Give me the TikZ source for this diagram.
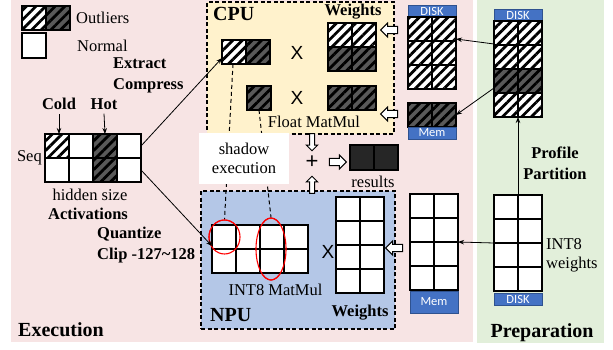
\documentclass[tikz,border=0pt]{standalone}
\usepackage{fontspec}
\setmainfont{Liberation Serif}
\setsansfont{Liberation Sans}
\newfontfamily\tagfont{Carlito}
\usetikzlibrary{arrows.meta,patterns.meta,shapes.geometric,shapes.arrows}

\definecolor{execpink}{HTML}{F7E4E4}
\definecolor{prepgreen}{HTML}{E2EFDA}
\definecolor{cpuyellow}{HTML}{FFF2CC}
\definecolor{npublue}{HTML}{B4C7E7}
\definecolor{tagblue}{HTML}{4472C4}
\definecolor{tagedge}{HTML}{2F528F}
\definecolor{hotgray}{HTML}{595959}
\definecolor{resblack}{HTML}{262626}

\tikzset{
  >={Stealth[length=6pt,width=4.5pt]},
  conn/.style={->, line width=0.8pt},
  cell/.style={draw, line width=1.1pt, fill=white, minimum width=24pt, minimum height=24pt, inner sep=0pt, outer sep=0pt},
  hatw/.style={cell, preaction={fill=white}, pattern={Lines[angle=45,distance=6.8pt,line width=2.8pt]}, pattern color=black},
  hatd/.style={cell, preaction={fill=hotgray}, pattern={Lines[angle=45,distance=6.8pt,line width=2.8pt]}, pattern color=black},
  unitbox/.style={draw, dash pattern=on 4pt off 2.5pt, line width=1.2pt, inner sep=0pt},
  shadowline/.style={dash pattern=on 4pt off 3pt, line width=1pt},
  ring/.style={ellipse, draw=red, line width=1.1pt, inner sep=0pt},
  tag/.style={draw=tagedge, fill=tagblue, text=white, font=\tagfont\fontsize{12.5}{12.5}\selectfont, minimum width=48pt, inner sep=0pt},
  barrow/.style={single arrow, draw, fill=white, line width=1pt, inner xsep=2pt, inner ysep=3.2pt, minimum height=17pt, single arrow head extend=3.2pt},
  lbl/.style={font=\fontsize{16.5}{19}\selectfont, inner sep=0pt},
  blbl/.style={font=\fontsize{16.5}{21}\selectfont\bfseries, inner sep=0pt},
  title/.style={font=\fontsize{20}{22}\selectfont\bfseries, inner sep=0pt},
  xmark/.style={font=\sffamily\fontsize{19}{19}\selectfont, inner sep=0pt}
}

\begin{document}
\begin{tikzpicture}[x=1pt, y=-1pt]
\useasboundingbox (0,0) rectangle (613,350);

% two regions
\node[fill=execpink, minimum width=462pt, minimum height=342pt, inner sep=0pt] (execbg) at (242,171) {};
\node[fill=prepgreen, minimum width=127pt, minimum height=343pt, inner sep=0pt] (prepbg) at (540.5,171.5) {};

% legend
\node[hatw] (leg1) at (34,18) {};
\node[hatd] (leg2) at (58,18) {};
\node[cell, minimum height=25pt] (leg3) at (34,45.5) {};
\node[lbl, anchor=west] (legout) at (76,18) {Outliers};
\node[lbl, anchor=west] (legnorm) at (77,46) {Normal};

% activations
\foreach \c/\r/\s in {1/1/hatw,2/1/cell,3/1/hatd,4/1/cell,1/2/cell,2/2/cell,3/2/hatd,4/2/cell}
  \node[\s] (act-\c-\r) at ({33+24*\c},{122+24*\r}) {};
\node[lbl, anchor=east] (seq) at (42,158) {Seq};
\node[lbl] (hidden) at (90,195) {hidden size};
\node[blbl] (actname) at (88,214) {Activations};
\node[blbl] (cold) at (59,104) {Cold};
\node[blbl] (hot) at (104,104) {Hot};
\draw[conn] ([yshift=-4pt]cold.south) -- ([xshift=2pt]act-1-1.north);
\draw[conn] ([yshift=-4pt]hot.south) -- (act-3-1.north);
\node[blbl, anchor=west, align=left] (extract) at (113,75) {Extract\\Compress};
\node[blbl, anchor=west, align=left] (quant) at (97,245) {Quantize\\Clip -127\textasciitilde128};
\node[title, anchor=west] (exec) at (18,330) {Execution};

% CPU and NPU units
\node[unitbox, fill=cpuyellow, minimum width=187pt, minimum height=132pt] (cpubox) at (300.5,68) {};
\node[unitbox, fill=npublue, minimum width=194pt, minimum height=138pt] (npubox) at (298,260) {};

% red rings first named, lines go under the shadow note
\node[ring, minimum width=31pt, minimum height=34pt] (ring1) at (224.5,237) {};
\node[ring, minimum width=30pt, minimum height=62pt] (ring2) at (271,249) {};

% CPU side
\node[hatw] (cpuA-1) at (234,52) {};
\node[hatd] (cpuA-2) at (258,52) {};
\node[hatd] (cpuB) at (259,98) {};
\draw[shadowline] ([xshift=-1pt]cpuA-1.south) -- (ring1.north);
\draw[shadowline] (cpuB.south) -- (ring2.north);
\node[fill=white, minimum width=90pt, minimum height=51pt, inner sep=0pt, lbl, align=center] (shadow) at (244,158.5) {shadow\\execution};

\node[title, anchor=west] (cpulbl) at (213,14) {CPU};
\node[blbl] (cpuwlbl) at (353,12) {Weights};
\foreach \c/\r/\s in {1/1/hatw,2/1/hatw,1/2/hatd,2/2/hatd}
  \node[\s] (cpuW-\c-\r) at ({316+24*\c},{11+24*\r}) {};
\node[hatd] (cpuV-1) at (340,98) {};
\node[hatd] (cpuV-2) at (364,98) {};
\node[xmark] (mul1) at (297,53) {X};
\node[xmark] (mul2) at (297,98) {X};
\node[lbl] (fmm) at (314,122) {Float MatMul};

% NPU side
\foreach \c in {1,2,3,4}
  \foreach \r in {1,2}
    \node[cell] (npuA-\c-\r) at ({200+24*\c},{213+24*\r}) {};
\node[ring, minimum width=31pt, minimum height=34pt] at (ring1) {};
\node[ring, minimum width=30pt, minimum height=62pt] at (ring2) {};
\foreach \c in {1,2}
  \foreach \r in {1,2,3,4}
    \node[cell] (npuW-\c-\r) at ({324+24*\c},{185+24*\r}) {};
\node[xmark] (mul3) at (328,252) {X};
\node[lbl] (imm) at (275.5,290) {INT8 MatMul};
\node[title, anchor=west] (npulbl) at (210,315) {NPU};
\node[blbl] (npuwlbl) at (360,313) {Weights};

% merge of both results
\node[barrow, shape border rotate=270] (sumin1) at (312,141) {};
\node[barrow, shape border rotate=90] (sumin2) at (312,186) {};
\node[font=\sffamily\fontsize{22}{22}\selectfont, inner sep=0pt] (plus) at (312,162) {+};
\node[barrow] (sumout) at (336,162) {};
\node[cell, fill=resblack, minimum height=25pt] (res-1) at (362,157.5) {};
\node[cell, fill=resblack, minimum height=25pt] (res-2) at (386,157.5) {};
\node[lbl] (reslbl) at (373,182) {results};

% weight stores of the execution side
\node[tag, minimum height=12pt] (diskU) at (432,11) {DISK};
\foreach \c in {1,2}
  \foreach \r in {1,2,3}
    \node[hatw] (diskU-\c-\r) at ({396+24*\c},{5+24*\r}) {};
\node[hatd] (memD-1) at (420,115) {};
\node[hatd] (memD-2) at (444,115) {};
\node[tag, minimum height=12pt] (memU) at (432,133) {Mem};
\foreach \c in {1,2}
  \foreach \r in {1,2,3,4}
    \node[cell] (memG-\c-\r) at ({398+24*\c},{182+24*\r}) {};
\node[tag, minimum height=22pt] (memL) at (434,302) {Mem};
\node[barrow, shape border rotate=180] (feedW1) at (391,30) {};
\node[barrow, shape border rotate=135] (feedW2) at (391,114) {};
\node[barrow, shape border rotate=180] (feedW3) at (396,248) {};

% preparation
\node[tag, minimum height=12pt] (diskP) at (518,15) {DISK};
\foreach \c/\r/\s in {1/1/hatw,2/1/hatw,1/2/hatw,2/2/hatw,1/3/hatd,2/3/hatd,1/4/hatw,2/4/hatw}
  \node[\s] (prepU-\c-\r) at ({482+24*\c},{9+24*\r}) {};
\foreach \c in {1,2}
  \foreach \r in {1,2,3,4}
    \node[cell] (prepL-\c-\r) at ({482+24*\c},{183+24*\r}) {};
\node[tag, minimum height=12pt] (diskL) at (518,299) {DISK};
\node[blbl, align=center] (profile) at (555,163) {Profile\\Partition};
\node[lbl, anchor=west, align=left] (int8w) at (546,255) {INT8\\weights};
\node[title] (prep) at (542,333) {Preparation};

% connectors
\draw[conn] (act-4-1.east) -- ([yshift=-6pt]cpuA-1.west);
\draw[conn] (act-4-2.east) -- ([yshift=3pt]npuA-1-1.south west);
\draw[conn] ([yshift=1pt]prepU-1-2.north west) -- ([yshift=2pt]diskU-2-2.north east);
\draw[conn] ([yshift=-7pt]prepU-1-3.west) -- (memD-2.east);
\draw[conn] (prepL-1-1.north east) -- (prepU-1-4.south east);
\draw[conn] (prepL-1-3.north west) -- (memG-2-3.north east);
\end{tikzpicture}
\end{document}
